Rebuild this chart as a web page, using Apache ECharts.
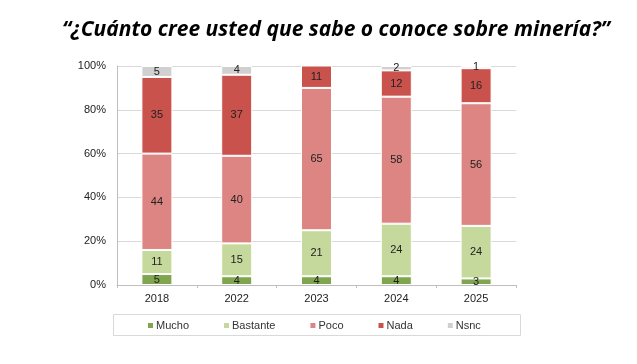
<!DOCTYPE html>
<html>
<head>
<meta charset="utf-8">
<script src="https://cdn.jsdelivr.net/npm/echarts@6/dist/echarts.min.js"></script>
<style>
html,body{margin:0;padding:0;background:#fff;}
#c{width:637px;height:364px;}
</style>
</head>
<body>
<div id="c"></div>
<script>
var categories = ['2018', '2022', '2023', '2024', '2025'];
var mucho    = [5, 4, 4, 4, 3];
var bastante = [11, 15, 21, 24, 24];
var poco     = [44, 40, 65, 58, 56];
var nada     = [35, 37, 11, 12, 16];
var nsnc     = [5, 4, null, 2, 1];
var yTicks   = [0, 20, 40, 60, 80, 100];

var names  = ['Mucho', 'Bastante', 'Poco', 'Nada', 'Nsnc'];
var colors = ['#7fa64f', '#c5d99c', '#dc8582', '#c9524d', '#d0d0d0'];
var values = [mucho, bastante, poco, nada, nsnc];

var chart = echarts.init(document.getElementById('c'));
chart.setOption({
  animation: false,
  title: {
    text: '\u201C\u00BFCu\u00E1nto cree usted que sabe o conoce sobre miner\u00EDa?\u201D',
    left: 57, top: 15,
    textStyle: { fontFamily: 'Open Sans', fontStyle: 'italic', fontWeight: 'bold', fontSize: 21, color: '#000' }
  },
  grid: { left: 117, right: 121, top: 66, bottom: 79 },
  legend: {
    left: 141, top: 315, itemWidth: 7, itemHeight: 7, itemGap: 33, icon: 'rect',
    textStyle: { fontFamily: 'Liberation Sans', fontSize: 11, color: '#333', padding: [0, 0, 0, -3] },
    data: names
  },
  graphic: [{
    type: 'rect', shape: { x: 113.5, y: 314.5, width: 407, height: 21 },
    style: { fill: 'none', stroke: '#d9d9d9', lineWidth: 1 }, silent: true
  }],
  xAxis: {
    type: 'category', data: categories,
    axisLine: { lineStyle: { color: '#bfbfbf' } },
    axisTick: { show: true, inside: false, length: 3, lineStyle: { color: '#bfbfbf' } },
    axisLabel: { fontFamily: 'Liberation Sans', fontSize: 11, color: '#222', margin: 8 }
  },
  yAxis: {
    type: 'value', min: 0, max: 100, interval: 20,
    axisLine: { show: true, lineStyle: { color: '#bfbfbf' } },
    axisTick: { show: false },
    splitLine: { lineStyle: { color: '#d9d9d9' } },
    axisLabel: { fontFamily: 'Liberation Sans', fontSize: 11, color: '#222', margin: 11,
      formatter: function (v) { return yTicks.indexOf(v) >= 0 ? v + '%' : ''; } }
  },
  series: names.map(function (n, i) {
    return {
      name: n, type: 'bar', stack: 'total', barWidth: 31,
      data: values[i],
      itemStyle: { color: colors[i], borderColor: '#fff', borderWidth: 1 },
      label: { show: true, position: 'inside', fontFamily: 'Liberation Sans', fontSize: 11, color: '#222',
        formatter: function (p) { return p.value == null ? '' : p.value; } }
    };
  })
});
</script>
</body>
</html>
